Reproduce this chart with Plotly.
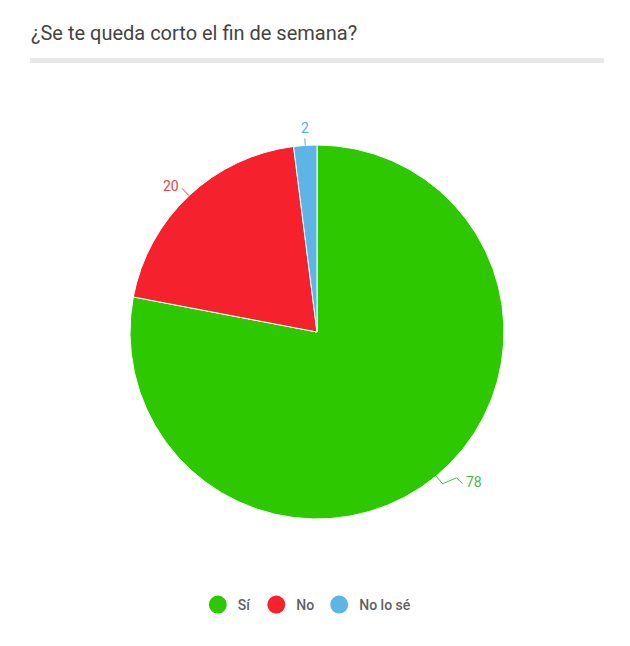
import math
import plotly.graph_objects as go

# data
labels = ['Sí', 'No', 'No lo sé']
values = [78, 20, 2]
colors = ['#2dc800', '#f5222d', '#5db4e5']
label_colors = ['#4cb946', '#e0434e', '#5aaee0']

W, H = 630, 646
# pie geometry in pixels
cx, cy, R = 317, 332, 187


def px(x):
    return x / W


def py(y):
    return 1 - y / H


fig = go.Figure()

fig.add_trace(go.Pie(
    labels=labels,
    values=values,
    sort=False,
    direction='clockwise',
    rotation=0,
    marker=dict(colors=colors, line=dict(color='white', width=1)),
    textinfo='none',
    hoverinfo='label+value',
    showlegend=False,
    domain=dict(x=[px(cx - R), px(cx + R)], y=[py(cy + R), py(cy - R)]),
))

# dummy traces for round legend symbols
for lab, col in zip(labels, colors):
    fig.add_trace(go.Scatter(
        x=[None], y=[None], mode='markers', name=lab,
        marker=dict(color=col, size=16, symbol='circle', line=dict(color=col, width=2)),
    ))

# outside labels with leader lines, placed from the slice angles
shapes = [dict(type='rect', xref='paper', yref='paper',
               x0=px(30), x1=px(604), y0=py(63), y1=py(58),
               fillcolor='#e8e8e8', line=dict(width=0), layer='below')]
annotations = []
total = sum(values)
start = 0.0
for v, col in zip(values, label_colors):
    mid = start + v / total * 360 / 2
    start += v / total * 360
    a = math.radians(mid)
    dx, dy = math.sin(a), -math.cos(a)
    x0, y0 = cx + R * dx, cy + R * dy
    x1, y1 = cx + (R + 10) * dx, cy + (R + 10) * dy
    if abs(dx) < 0.2:
        x1, y1 = cx + (R + 7) * dx, cy + (R + 7) * dy
        path = f'M{px(x0)},{py(y0)} L{px(x1)},{py(y1)}'
        annotations.append(dict(x=px(x1), y=py(y1), xref='paper', yref='paper',
                                text=str(v), showarrow=False, xanchor='center',
                                yanchor='bottom', font=dict(size=14, color=col, family='Roboto')))
    else:
        sgn = 1 if dx > 0 else -1
        x2 = x1 + (14 if sgn > 0 else 0)
        path = f'M{px(x0)},{py(y0)} L{px(x1)},{py(y1)} L{px(x2)},{py(y1 - 6 * (sgn > 0))}'
        if sgn > 0:
            path += f' L{px(x2 + 6)},{py(y1)}'
            x2 += 6
        annotations.append(dict(x=px(x2 + sgn * 1), y=py(y1 - 2), xref='paper', yref='paper',
                                text=str(v), showarrow=False,
                                xanchor='left' if sgn > 0 else 'right', yanchor='middle',
                                font=dict(size=14, color=col, family='Roboto')))
    shapes.append(dict(type='path', xref='paper', yref='paper', path=path,
                       line=dict(color=col, width=1)))

annotations.append(dict(x=px(29), y=py(33), xref='paper', yref='paper',
                        text='¿Se te queda corto el fin de semana?', showarrow=False,
                        xanchor='left', yanchor='middle',
                        font=dict(size=20, color='#444444', family='Roboto')))

fig.update_layout(
    width=W, height=H,
    margin=dict(l=0, r=0, t=0, b=0),
    paper_bgcolor='white',
    plot_bgcolor='white',
    xaxis=dict(visible=False),
    yaxis=dict(visible=False),
    shapes=shapes,
    annotations=annotations,
    showlegend=True,
    legend=dict(orientation='h', x=0.487, xanchor='center', y=py(605), yanchor='middle',
                font=dict(size=14, color='#606060', family='Roboto', weight=500),
                itemclick=False),
)

fig.write_html('out.html', config={'displayModeBar': False},
               post_script="document.body.style.margin='0';")
